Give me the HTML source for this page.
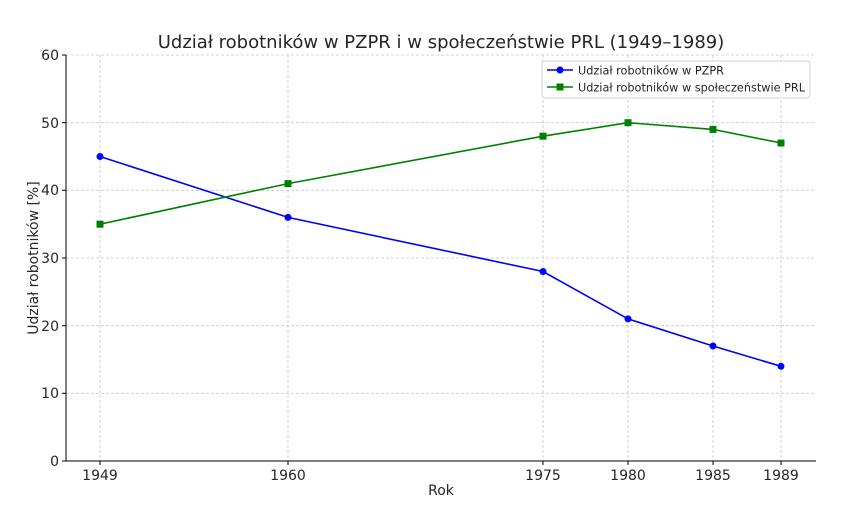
<!DOCTYPE html>
<html><head><meta charset="utf-8"><style>
html,body{margin:0;padding:0;background:#fff;}
svg text{font-family:"DejaVu Sans","Liberation Sans",sans-serif;fill:#262626;}
</style></head><body>
<svg width="841" height="500" xmlns="http://www.w3.org/2000/svg">
<rect width="841" height="500" fill="#fff"/>
<text x="441" y="48" font-size="18" text-anchor="middle">Udział robotników w PZPR i w społeczeństwie PRL (1949–1989)</text>
<g stroke="#c8c8c8" stroke-width="0.8" stroke-dasharray="3,2">
<line x1="66" x2="816" y1="55" y2="55"/>
<line x1="66" x2="816" y1="122.7" y2="122.7"/>
<line x1="66" x2="816" y1="190.3" y2="190.3"/>
<line x1="66" x2="816" y1="258" y2="258"/>
<line x1="66" x2="816" y1="325.7" y2="325.7"/>
<line x1="66" x2="816" y1="393.3" y2="393.3"/>
<line y1="55" y2="461" x1="100" x2="100"/>
<line y1="55" y2="461" x1="288" x2="288"/>
<line y1="55" y2="461" x1="543" x2="543"/>
<line y1="55" y2="461" x1="628" x2="628"/>
<line y1="55" y2="461" x1="713" x2="713"/>
<line y1="55" y2="461" x1="781" x2="781"/>
</g>
<g stroke="#000" stroke-width="1">
<line x1="66" x2="66" y1="55" y2="461.5"/>
<line x1="66" x2="816" y1="461" y2="461"/>
</g>
<g stroke="#000" stroke-width="1">
<line x1="62" x2="66" y1="55" y2="55"/><line x1="62" x2="66" y1="122.7" y2="122.7"/><line x1="62" x2="66" y1="190.3" y2="190.3"/><line x1="62" x2="66" y1="258" y2="258"/><line x1="62" x2="66" y1="325.7" y2="325.7"/><line x1="62" x2="66" y1="393.3" y2="393.3"/><line x1="62" x2="66" y1="461" y2="461"/>
<line x1="100" x2="100" y1="461" y2="465"/><line x1="288" x2="288" y1="461" y2="465"/><line x1="543" x2="543" y1="461" y2="465"/><line x1="628" x2="628" y1="461" y2="465"/><line x1="713" x2="713" y1="461" y2="465"/><line x1="781" x2="781" y1="461" y2="465"/>
</g>
<g font-size="14" text-anchor="end">
<text x="59" y="60">60</text><text x="59" y="128">50</text><text x="59" y="195">40</text><text x="59" y="263">30</text><text x="59" y="331">20</text><text x="59" y="398">10</text><text x="59" y="466">0</text>
</g>
<g font-size="14" text-anchor="middle">
<text x="100" y="480">1949</text><text x="288" y="480">1960</text><text x="543" y="480">1975</text><text x="628" y="480">1980</text><text x="713" y="480">1985</text><text x="781" y="480">1989</text>
<text x="441" y="495">Rok</text>
</g>
<text font-size="14" text-anchor="middle" transform="translate(38,258) rotate(-90)">Udział robotników [%]</text>
<polyline fill="none" stroke="#0000ff" stroke-width="1.6" points="100,156.5 288,217.4 543,271.5 628,318.9 713,346 781,366.3"/>
<g fill="#0000ff">
<circle cx="100" cy="156.5" r="3.5"/><circle cx="288" cy="217.4" r="3.5"/><circle cx="543" cy="271.5" r="3.5"/><circle cx="628" cy="318.9" r="3.5"/><circle cx="713" cy="346" r="3.5"/><circle cx="781" cy="366.3" r="3.5"/>
</g>
<polyline fill="none" stroke="#008000" stroke-width="1.6" points="100,224.2 288,183.6 543,136.2 628,122.7 713,129.4 781,143"/>
<g fill="#008000">
<rect x="96.5" y="220.7" width="7" height="7"/><rect x="284.5" y="180.1" width="7" height="7"/><rect x="539.5" y="132.7" width="7" height="7"/><rect x="624.5" y="119.2" width="7" height="7"/><rect x="709.5" y="125.9" width="7" height="7"/><rect x="777.5" y="139.5" width="7" height="7"/>
</g>
<rect x="542" y="61" width="268" height="37" rx="3" fill="#fff" fill-opacity="0.85" stroke="#d0d0d0"/>
<line x1="547" x2="573" y1="70" y2="70" stroke="#0000ff" stroke-width="1.6"/><circle cx="560" cy="70" r="3.5" fill="#0000ff"/>
<text x="578" y="74.5" font-size="11.5" textLength="146" lengthAdjust="spacingAndGlyphs">Udział robotników w PZPR</text>
<line x1="547" x2="573" y1="87" y2="87" stroke="#008000" stroke-width="1.6"/><rect x="556.5" y="83.5" width="7" height="7" fill="#008000"/>
<text x="578" y="91.5" font-size="11.5" textLength="227" lengthAdjust="spacingAndGlyphs">Udział robotników w społeczeństwie PRL</text>
</svg>
</body></html>
